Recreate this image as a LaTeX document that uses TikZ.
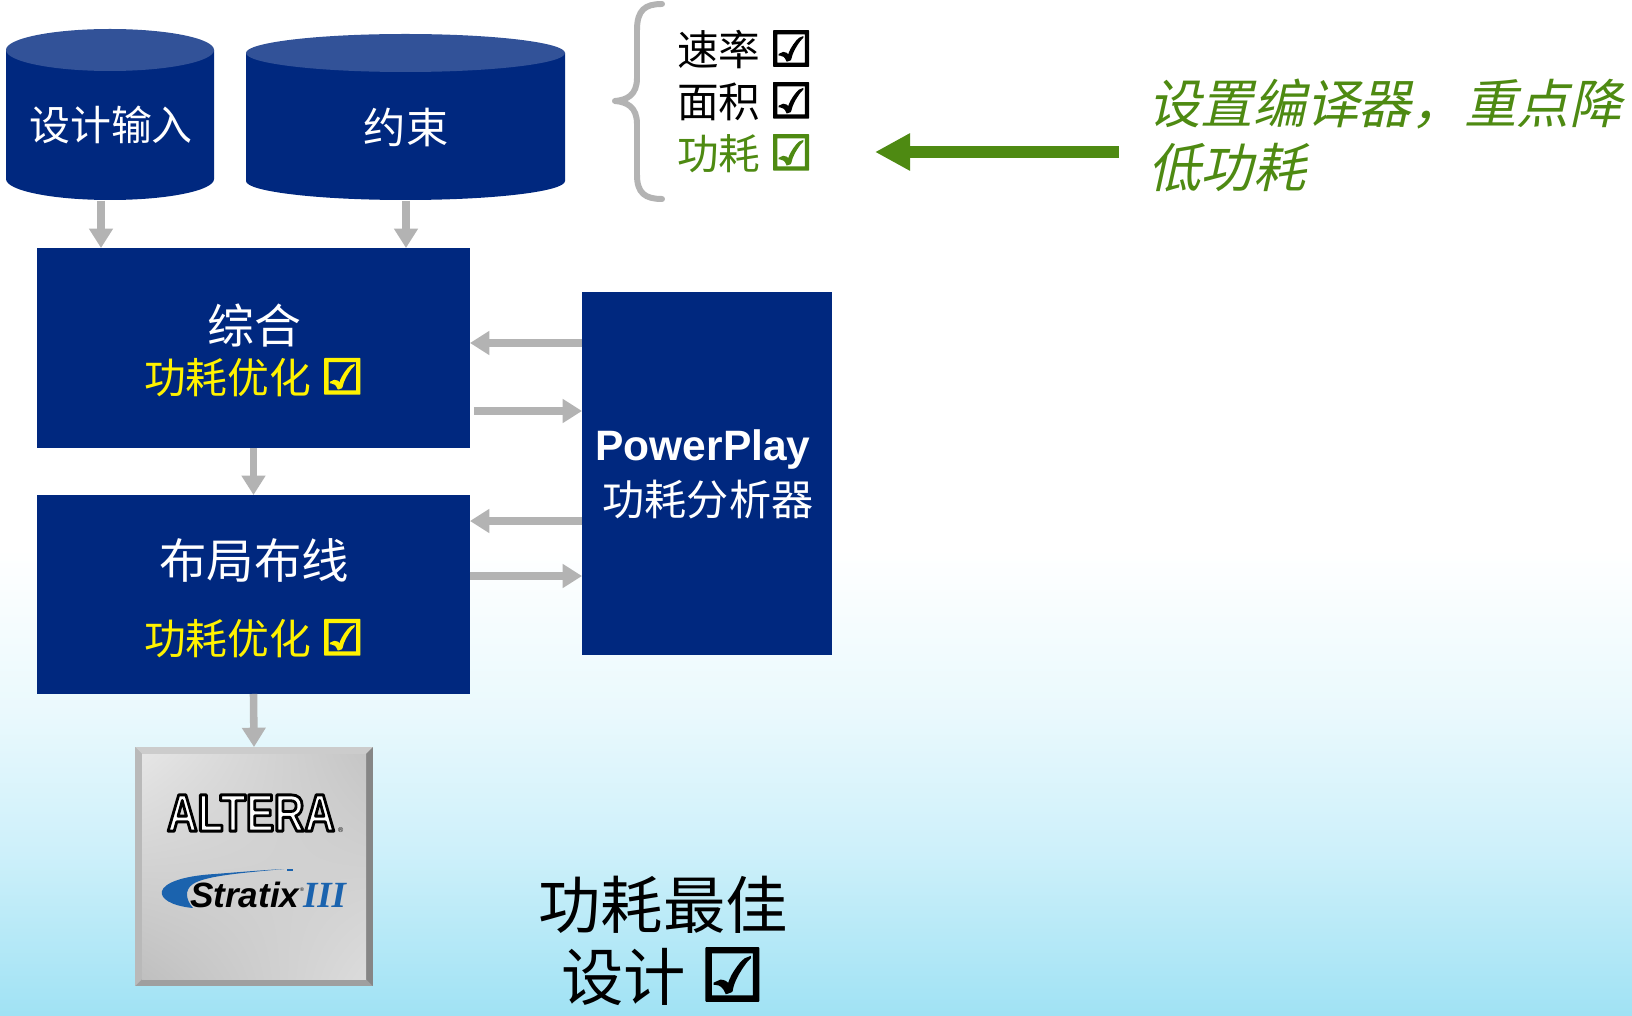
\documentclass[tikz,border=0pt]{standalone}
\usepackage{fontspec}
\usetikzlibrary{arrows.meta,shadings}
\setmainfont{Liberation Sans}
\newfontfamily\cjk{Noto Sans CJK SC}
\newfontfamily\cjkslant{Noto Sans CJK SC}[FakeSlant=0.22]
\newfontfamily\chk{DejaVu Sans}[FakeBold=3.5]
\newfontfamily\logofont{Liberation Sans}[FakeStretch=0.8]
\newfontfamily\romanbi{Liberation Serif}

\definecolor{navy}{HTML}{00287F}
\definecolor{capblue}{HTML}{325298}
\definecolor{hiyellow}{HTML}{FFF200}
\definecolor{leafgreen}{HTML}{4E8A12}
\definecolor{arrowgray}{HTML}{B3B3B3}
\definecolor{stratixblue}{HTML}{1B63AE}
\definecolor{skyB}{RGB}{160,226,244}
\definecolor{skyM}{RGB}{205,240,250}
\definecolor{skyL}{RGB}{234,249,253}

\pgfdeclareverticalshading{skyfade}{100bp}{color(0bp)=(skyB); color(25bp)=(skyB); color(33bp)=(skyM); color(40bp)=(skyL); color(48bp)=(white); color(100bp)=(white)}

\newcommand{\cbx}{{\chk\bfseries\fontsize{1.15em}{1em}\selectfont ☑}}
\newcommand{\fs}[1]{\fontsize{#1pt}{#1pt}\selectfont}
% white letters with a black stroked outline
\newcommand{\outlined}[1]{\special{pdf:literal direct 2 Tr 0 G 1.6 w 1 j}#1\special{pdf:literal direct 0 Tr}}

\begin{document}
\begin{tikzpicture}[x=0.02cm, y=-0.02cm,
  blk/.style={fill=navy, inner sep=0pt, outer sep=0pt},
  lbl/.style={inner sep=0pt, outer sep=0pt},
  garrow/.style={draw=arrowgray, line width=4.3pt, -{Triangle[length=11pt,width=13pt]}},
  gnarrow/.style={draw=leafgreen, line width=6.5pt, -{Triangle[length=20pt,width=20pt]}}]

\useasboundingbox (0,0) rectangle (1632,1016);
% sky background
\shade[shading=skyfade] (0,0) rectangle (1632,1016);

% ---- database cylinders ----
\fill[navy] (6,50) -- (6,179) arc[start angle=180, end angle=0, x radius=104, y radius=21] -- (214,50) -- cycle;
\fill[capblue] (110,50) ellipse[x radius=104, y radius=21];
\node[lbl, text=white, font=\cjk\fs{23.3}] (inp) at (111,125) {设计输入};

\fill[navy] (246,53) -- (246,181) arc[start angle=180, end angle=0, x radius=159.5, y radius=19] -- (565,53) -- cycle;
\fill[capblue] (405.5,53) ellipse[x radius=159.5, y radius=19];
\node[lbl, text=white, font=\cjk\fs{24}] (con) at (406,127) {约束};

% ---- process blocks ----
\node[blk, minimum width=8.66cm, minimum height=4.0cm] (syn) at (253.5,348) {};
\node[lbl, text=white, font=\cjk\fs{26.7}] (synt) at (254,326) {综合};
\node[lbl, text=hiyellow, font=\cjk\fs{23.8}] (synopt) at (254,378) {功耗优化 \cbx};

\node[blk, minimum width=8.66cm, minimum height=3.98cm] (par) at (253.5,594.5) {};
\node[lbl, text=white, font=\cjk\fs{27}] (part) at (254,560) {布局布线};
\node[lbl, text=hiyellow, font=\cjk\fs{23.8}] (paropt) at (254,639) {功耗优化 \cbx};

\node[blk, minimum width=5.0cm, minimum height=7.26cm] (pp) at (707,473.5) {};
\node[lbl, text=white, font=\bfseries\fs{24.2}] (ppname) at (703,450) {PowerPlay};
\node[lbl, text=white, font=\cjk\fs{24}] (ppsub) at (708,500) {功耗分析器};

% ---- device ----
\node[minimum width=4.76cm, minimum height=4.78cm, inner sep=0pt, outer sep=0pt] (chip) at (254,866.5) {};
\fill[gray!75] (chip.north west) rectangle (chip.south east);
\fill[gray!40] (chip.north west) -- (chip.north east) -- (366,754) -- (142,754) -- cycle;
\fill[gray!55] (chip.north west) -- (142,754) -- (142,979) -- (chip.south west) -- cycle;
\fill[gray!95!white] (chip.north east) -- (366,754) -- (366,979) -- (chip.south east) -- cycle;
\shade[upper left=gray!20, upper right=gray!45, lower left=gray!50, lower right=gray!28] (142,754) rectangle (366,979);

\node[lbl, text=white] (altera) at (251,813) {\logofont\bfseries\fs{30}\outlined{ALTERA}};
\node[lbl, anchor=base west, font=\fs{4}] at (338,832) {®};
\fill[stratixblue] (193,908) .. controls (150,904) and (146,878) .. (215,874) .. controls (240,872) and (265,870) .. (284,869) .. controls (240,873) and (205,876) .. (193,884) .. controls (184,890) and (186,900) .. (193,908) -- cycle;
\fill[stratixblue] (287,868.5) rectangle (293,870.5);
\node[lbl, anchor=base west, font=\bfseries\itshape\fs{20}] (stratix) at (190,907) {Stratix};
\node[lbl, anchor=base west, font=\fs{3}] at (300,891) {®};
\node[lbl, anchor=base west, text=stratixblue, font=\romanbi\bfseries\itshape\fs{21}] (gen) at (303,907) {III};

% ---- flow arrows ----
\coordinate (inp-foot) at (101,201);
\coordinate (con-foot) at (406,201);
\draw[garrow] (inp-foot) -- (inp-foot |- syn.north);
\draw[garrow] (con-foot) -- (con-foot |- syn.north);
\draw[garrow] (syn.south) -- (par.north);
\draw[garrow] (par.south) -- (chip.north);

\draw[garrow] (pp.west |- 0,343) -- (syn.east |- 0,343);
\draw[garrow] ([xshift=0.08cm]syn.east |- 0,411) -- (pp.west |- 0,411);
\draw[garrow] (pp.west |- 0,521) -- (par.east |- 0,521);
\draw[garrow] (par.east |- 0,576) -- (pp.west |- 0,576);

% ---- goals list ----
\draw[arrowgray, line width=3.4pt, line join=round, line cap=round] (662,4) .. controls (645,4) and (637,10) .. (637,30) -- (637,78) .. controls (637,95) and (627,100) .. (615,101) .. controls (627,102) and (637,107) .. (637,124) -- (637,175) .. controls (637,193) and (645,199) .. (662,199);
\node[lbl, anchor=west, font=\cjk\fs{23.7}] (speed) at (677,50) {速率 \cbx};
\node[lbl, anchor=west, font=\cjk\fs{23.7}] (area) at (677,102) {面积 \cbx};
\node[lbl, anchor=west, text=leafgreen, font=\cjk\fs{23.7}] (power) at (677,154) {功耗 \cbx};

% ---- compiler note ----
\node[lbl, anchor=west, text=leafgreen, align=left, font=\cjkslant\fontsize{30pt}{36pt}\selectfont] (note) at (1148,135.5) {设置编译器，重点降\\低功耗};
\coordinate (note-tail) at (1119,152);
\coordinate (note-tip) at (875,152);
\draw[gnarrow] (note-tail) -- (note-tip);

% ---- result ----
\node[lbl, align=center, font=\cjk\fontsize{35.5pt}{41pt}\selectfont] (result) at (663,941) {功耗最佳\\设计 \cbx};
\end{tikzpicture}
\end{document}
